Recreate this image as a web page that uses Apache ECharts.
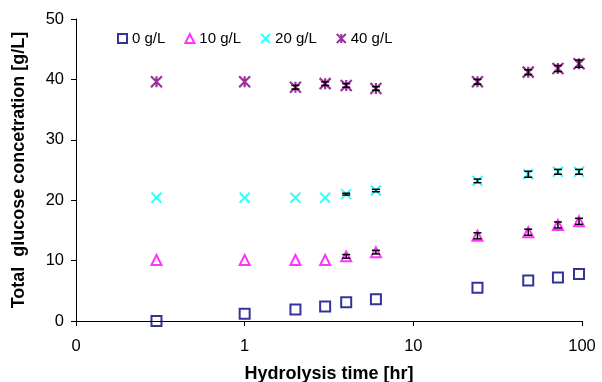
<!DOCTYPE html>
<html><head><meta charset="utf-8">
<script src="https://cdn.jsdelivr.net/npm/echarts@6/dist/echarts.min.js"></script>
<style>html,body{margin:0;padding:0;background:#fff}#c{width:602px;height:382px}</style>
</head><body><div id="c"></div>
<script>
// Data
const times = [0.3, 1, 2, 3, 4, 6, 24, 48, 72, 96];
const seriesNames = ['0 g/L', '10 g/L', '20 g/L', '40 g/L'];
const g0  = [0.0, 1.2, 1.9, 2.4, 3.1, 3.6, 5.5, 6.7, 7.2, 7.8];
const g10 = [10.1, 10.1, 10.1, 10.1, 10.7, 11.4, 14.1, 14.7, 15.9, 16.5];
const g20 = [20.4, 20.4, 20.4, 20.4, 21.0, 21.6, 23.2, 24.3, 24.7, 24.7];
const g40 = [39.6, 39.6, 38.7, 39.3, 39.0, 38.5, 39.6, 41.2, 41.8, 42.6];
const e0  = [0, 0, 0, 0, 0, 0, 0, 0, 0, 0];
const e10 = [0, 0, 0, 0, 0.3, 0.3, 0.5, 0.5, 0.5, 0.5];
const e20 = [0, 0, 0, 0, 0.15, 0.2, 0.3, 0.5, 0.4, 0.4];
const e40 = [0, 0, 0.3, 0.3, 0.3, 0.3, 0.4, 0.4, 0.5, 0.6];
const xTickLabels = {0.1: '0', 1: '1', 10: '10', 100: '100'};

const FONT = 'Liberation Sans, Arial, sans-serif';
const values = [g0, g10, g20, g40];
const errors = [e0, e10, e20, e40];
const colors = ['#000080', '#FF00FF', '#00FFFF', '#800080'];
const symbols = [
  'rect',
  'triangle',
  'path://M0,0L10,10M10,0L0,10',
  'path://M0,0L10,10M10,0L0,10M5,0L5,10'
];
const sizes = [10, 10, 10, 11];

const chart = echarts.init(document.getElementById('c'), null, {renderer: 'canvas'});
const series = [];
values.forEach((vals, i) => {
  series.push({
    name: seriesNames[i],
    type: 'scatter',
    data: times.map((t, k) => [t, vals[k]]),
    symbol: symbols[i],
    symbolSize: sizes[i],
    itemStyle: {color: i < 2 ? 'rgba(0,0,0,0)' : colors[i], borderColor: colors[i], borderWidth: i === 3 ? 2.2 : 2},
    emphasis: {disabled: true},
    z: 2
  });
});
const errData = [];
values.forEach((vals, i) => {
  times.forEach((t, k) => { if (errors[i][k] > 0) errData.push([t, vals[k], errors[i][k]]); });
});
series.push({
  type: 'custom',
  data: errData,
  z: 3,
  silent: true,
  renderItem: function (params, api) {
    const x = api.value(0), y = api.value(1), e = api.value(2);
    const lo = api.coord([x, y - e]);
    const hi = api.coord([x, y + e]);
    const w = 4;
    const st = {stroke: '#000', lineWidth: 1.5};
    return {type: 'group', children: [
      {type: 'line', shape: {x1: lo[0], y1: lo[1], x2: hi[0], y2: hi[1]}, style: st},
      {type: 'line', shape: {x1: lo[0] - w, y1: lo[1], x2: lo[0] + w, y2: lo[1]}, style: st},
      {type: 'line', shape: {x1: hi[0] - w, y1: hi[1], x2: hi[0] + w, y2: hi[1]}, style: st}
    ]};
  }
});

chart.setOption({
  animation: false,
  backgroundColor: '#fff',
  textStyle: {fontFamily: FONT},
  grid: {left: 76, right: 20, top: 19, bottom: 61, containLabel: false, outerBoundsMode: 'none'},
  legend: {
    data: seriesNames,
    left: 112, top: 26,
    itemWidth: 9, itemHeight: 9, itemGap: 19,
    textStyle: {fontFamily: FONT, fontSize: 15, color: '#000'}
  },
  xAxis: {
    type: 'log', logBase: 10, min: 0.1, max: 100,
    name: 'Hydrolysis time [hr]', nameLocation: 'middle', nameGap: 44,
    nameTextStyle: {fontFamily: FONT, fontSize: 18, fontWeight: 'bold', color: '#000'},
    axisLine: {lineStyle: {color: '#000', width: 1}},
    axisTick: {show: true, inside: false, length: 5, lineStyle: {color: '#000'}},
    minorTick: {show: false},
    splitLine: {show: false},
    axisLabel: {fontFamily: FONT, fontSize: 16.5, color: '#000', margin: 17,
      formatter: v => { const key = Math.round(v * 10) / 10; return xTickLabels[key] !== undefined ? xTickLabels[key] : ''; }}
  },
  yAxis: {
    type: 'value', min: 0, max: 50, interval: 10,
    name: 'Total  glucose concetration [g/L]', nameLocation: 'middle', nameGap: 48,
    nameTextStyle: {fontFamily: FONT, fontSize: 18, fontWeight: 'bold', color: '#000'},
    axisLine: {show: true, lineStyle: {color: '#000', width: 1}},
    axisTick: {show: true, inside: false, length: 5, lineStyle: {color: '#000'}},
    splitLine: {show: false},
    axisLabel: {fontFamily: FONT, fontSize: 16.5, color: '#000', margin: 12}
  },
  series: series
});
</script></body></html>
